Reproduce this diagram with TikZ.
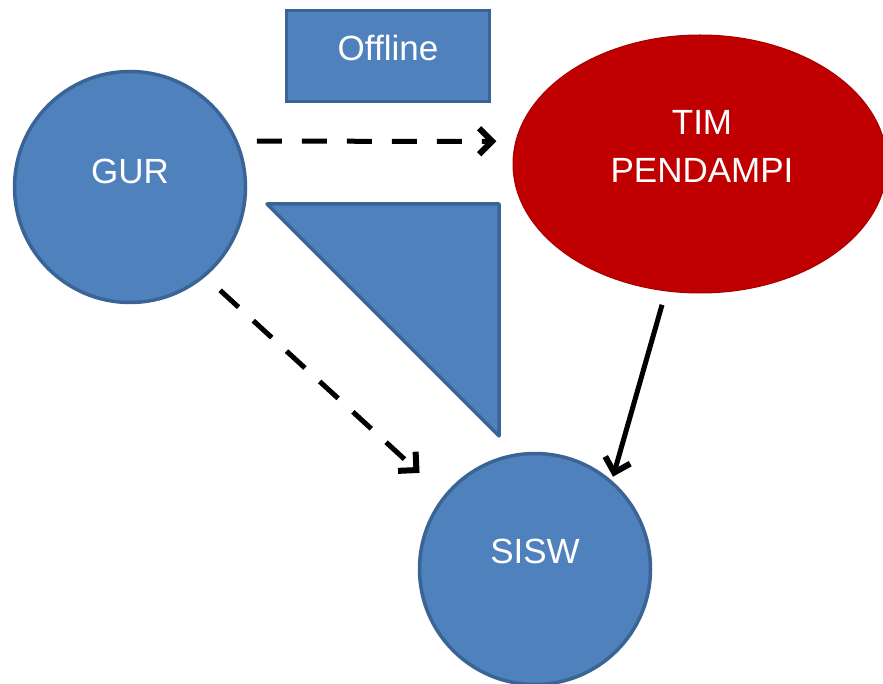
\documentclass[tikz,border=0pt]{standalone}
\usepackage{fontspec}
\setmainfont{Liberation Sans}
\usetikzlibrary{shapes.geometric,arrows.meta}
\definecolor{bfill}{HTML}{4F81BD}
\definecolor{bdraw}{HTML}{3A6496}
\definecolor{rfill}{HTML}{C00000}
\definecolor{rdraw}{HTML}{A50000}
\begin{document}
\begin{tikzpicture}[x=1pt,y=-1pt,
  lbl/.style={text=white,font=\fontsize{35}{48}\selectfont},
  bluecirc/.style={circle,fill=bfill,draw=bdraw,line width=3.5pt,minimum size=231pt,inner sep=0pt},
  redell/.style={ellipse,fill=rfill,draw=rdraw,line width=1pt,minimum width=374pt,minimum height=258pt,inner sep=0pt},
  bluebox/.style={rectangle,fill=bfill,draw=bdraw,line width=3.5pt,minimum width=203pt,minimum height=91pt,inner sep=0pt},
  tip/.style={-{Straight Barb[length=13pt,width=26pt,line width=6pt]}},
  dasharrow/.style={tip,line width=5pt,dash pattern=on 25pt off 20pt,black},
  solidarrow/.style={tip,line width=5pt,black}]
\useasboundingbox (0,0) rectangle (883,684);
\node[bluecirc,label={[lbl,yshift=16pt]center:GUR}] (GUR) at (130,187) {};
\node[bluecirc,label={[lbl,yshift=18pt]center:SISW}] (SISW) at (535,569) {};
\node[redell,label={[lbl,align=center,xshift=2pt,yshift=18pt]center:TIM\\PENDAMPI}] (TIM) at (700,164) {};
\node[bluebox,label={[lbl,yshift=8pt]center:Offline}] (OFF) at (388,56) {};
\draw[fill=bfill,draw=bdraw,line width=3.5pt,line join=round] (267,204) -- (499,204) -- (499,436) -- cycle;
\draw[dasharrow,shorten <=19pt,shorten >=19pt] (GUR.23) -- (TIM.173);
\draw[dasharrow,shorten <=20pt,shorten >=33pt] (GUR.-50) -- (SISW.141);
\draw[solidarrow,shorten <=14pt,shorten >=4pt] (TIM.-105) -- (SISW.49);
\end{tikzpicture}
\end{document}
